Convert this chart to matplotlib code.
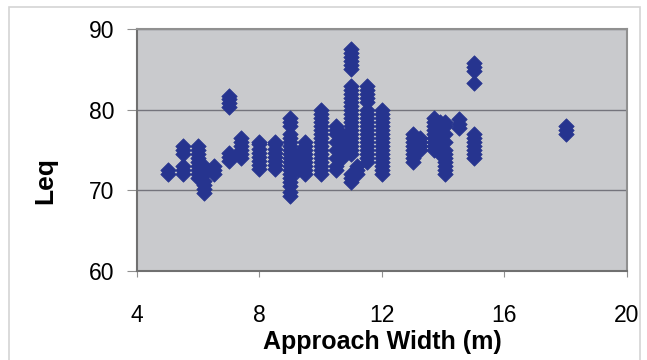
import numpy as np
import matplotlib
matplotlib.use('agg')
import matplotlib.pyplot as plt  # noqa
from matplotlib.patches import Rectangle

# approach width (m) for each measured column, and the Leq readings at it
widths = [5.0, 5.5, 6.0, 6.2, 6.5, 7.0, 7.4, 8.0, 8.5, 9.0, 9.25, 9.5,
          10.0, 10.5, 10.7, 11.0, 11.2, 11.5, 12.0, 13.0, 13.25, 13.7,
          13.9, 14.05, 14.5, 15.0, 18.0]
leq = [
    [72.0, 72.5],
    [72.0, 72.5, 73.0, 74.5, 75.0, 75.5],
    [71.5, 72.0, 72.5, 73.0, 73.5, 74.0, 74.5, 75.0, 75.5],
    [69.7, 70.2, 70.7, 71.2, 72.0, 72.5, 73.0],
    [72.0, 72.5, 73.0],
    [73.7, 74.2, 74.7, 80.3, 80.8, 81.3, 81.7],
    [74.0, 74.5, 75.0, 75.5, 76.0, 76.5],
    [72.7, 73.2, 73.7, 74.2, 74.7, 75.2, 75.7, 76.0],
    [72.7, 73.2, 73.7, 74.2, 74.7, 75.2, 75.7, 76.0],
    [69.3, 69.8, 70.5, 71.0, 71.5, 72.0, 72.5, 73.0, 73.5, 74.0, 74.5,
     75.0, 75.5, 76.0, 76.5, 77.0, 78.0, 78.5, 79.0],
    [72.5, 73.0, 73.5, 74.0, 74.5],
    [72.0, 72.5, 73.0, 73.5, 74.0, 74.5, 75.0, 75.5, 76.0],
    [72.0, 72.5, 73.0, 73.5, 74.0, 74.5, 75.0, 75.5, 76.0, 76.5, 77.0,
     77.5, 78.0, 78.5, 79.0, 79.5, 80.0],
    [72.5, 73.0, 74.0, 75.0, 76.0, 77.0, 77.5, 78.0],
    [74.0, 75.0, 76.0, 77.0],
    [71.0, 71.5, 72.0, 74.5, 75.0, 75.5, 76.0, 76.5, 77.0, 77.5, 78.0,
     78.5, 79.0, 79.5, 80.0, 80.5, 81.0, 81.5, 82.0, 82.5, 83.0,
     85.0, 85.5, 86.0, 86.5, 87.0, 87.5],
    [72.0, 72.5, 73.0],
    [73.5, 74.0, 74.5, 75.0, 75.5, 76.0, 76.5, 77.0, 77.5, 78.0, 78.5,
     79.0, 79.5, 80.0, 81.0, 81.5, 82.0, 82.5, 83.0],
    [72.0, 72.5, 73.0, 73.5, 74.0, 74.5, 75.0, 75.5, 76.0, 76.5, 77.0,
     77.5, 78.0, 78.5, 79.0, 79.5, 80.0],
    [73.5, 74.0, 74.5, 75.0, 75.5, 76.0, 76.5, 77.0],
    [75.0, 75.5, 76.0, 76.5],
    [75.0, 75.5, 76.0, 76.5, 77.0, 77.5, 78.0, 78.5, 79.0],
    [74.5, 75.0, 75.5, 76.0, 76.5, 77.0, 77.5, 78.0, 78.5],
    [72.0, 72.5, 73.0, 73.5, 74.0, 74.5, 75.0, 76.0, 77.0, 78.0, 78.5],
    [77.8, 78.3, 78.8],
    [74.0, 74.5, 75.0, 75.5, 76.0, 76.5, 77.0, 83.3, 84.8, 85.3, 85.8],
    [77.0, 77.5, 78.0],
]

x = np.concatenate([[w] * len(v) for w, v in zip(widths, leq)])
y = np.concatenate(leq)

plt.rcParams['font.family'] = ['Liberation Sans', 'DejaVu Sans']

fig = plt.figure(figsize=(6.47, 3.60), dpi=100)
fig.patches.append(Rectangle((0.014, -0.02), 0.975, 1.0, transform=fig.transFigure,
                             fill=False, edgecolor='#d4d4d4', lw=1.2))

ax = fig.add_axes([0.2117, 0.247, 0.7573, 0.672])
ax.set_facecolor('#c9cacd')
ax.scatter(x, y, marker='D', s=62, color='#26348f', edgecolors='#26348f',
           linewidths=0.5, zorder=3)

ax.set_xlim(4, 20)
ax.set_ylim(60, 90)
ax.set_xticks([4, 8, 12, 16, 20])
ax.set_yticks([60, 70, 80, 90])
ax.yaxis.grid(True, color='#74747c', lw=1.0)
ax.set_axisbelow(True)

for side in ['top', 'right']:
    ax.spines[side].set_color('#909090')
    ax.spines[side].set_linewidth(1.5)
for side in ['left', 'bottom']:
    ax.spines[side].set_color('#707070')
    ax.spines[side].set_linewidth(1.5)

ax.tick_params(axis='both', direction='out', width=0.8, color='#909090',
               labelsize=16.5)
ax.tick_params(axis='y', length=7, pad=9)
ax.tick_params(axis='x', length=4, pad=20)

ax.set_xlabel('Approach Width (m)', fontsize=18, fontweight='bold')
ax.set_ylabel('Leq', fontsize=19, fontweight='bold')
ax.xaxis.set_label_coords(0.5, -0.245)
ax.yaxis.set_label_coords(-0.163, 0.376)

plt.savefig('out.png', dpi=100)
